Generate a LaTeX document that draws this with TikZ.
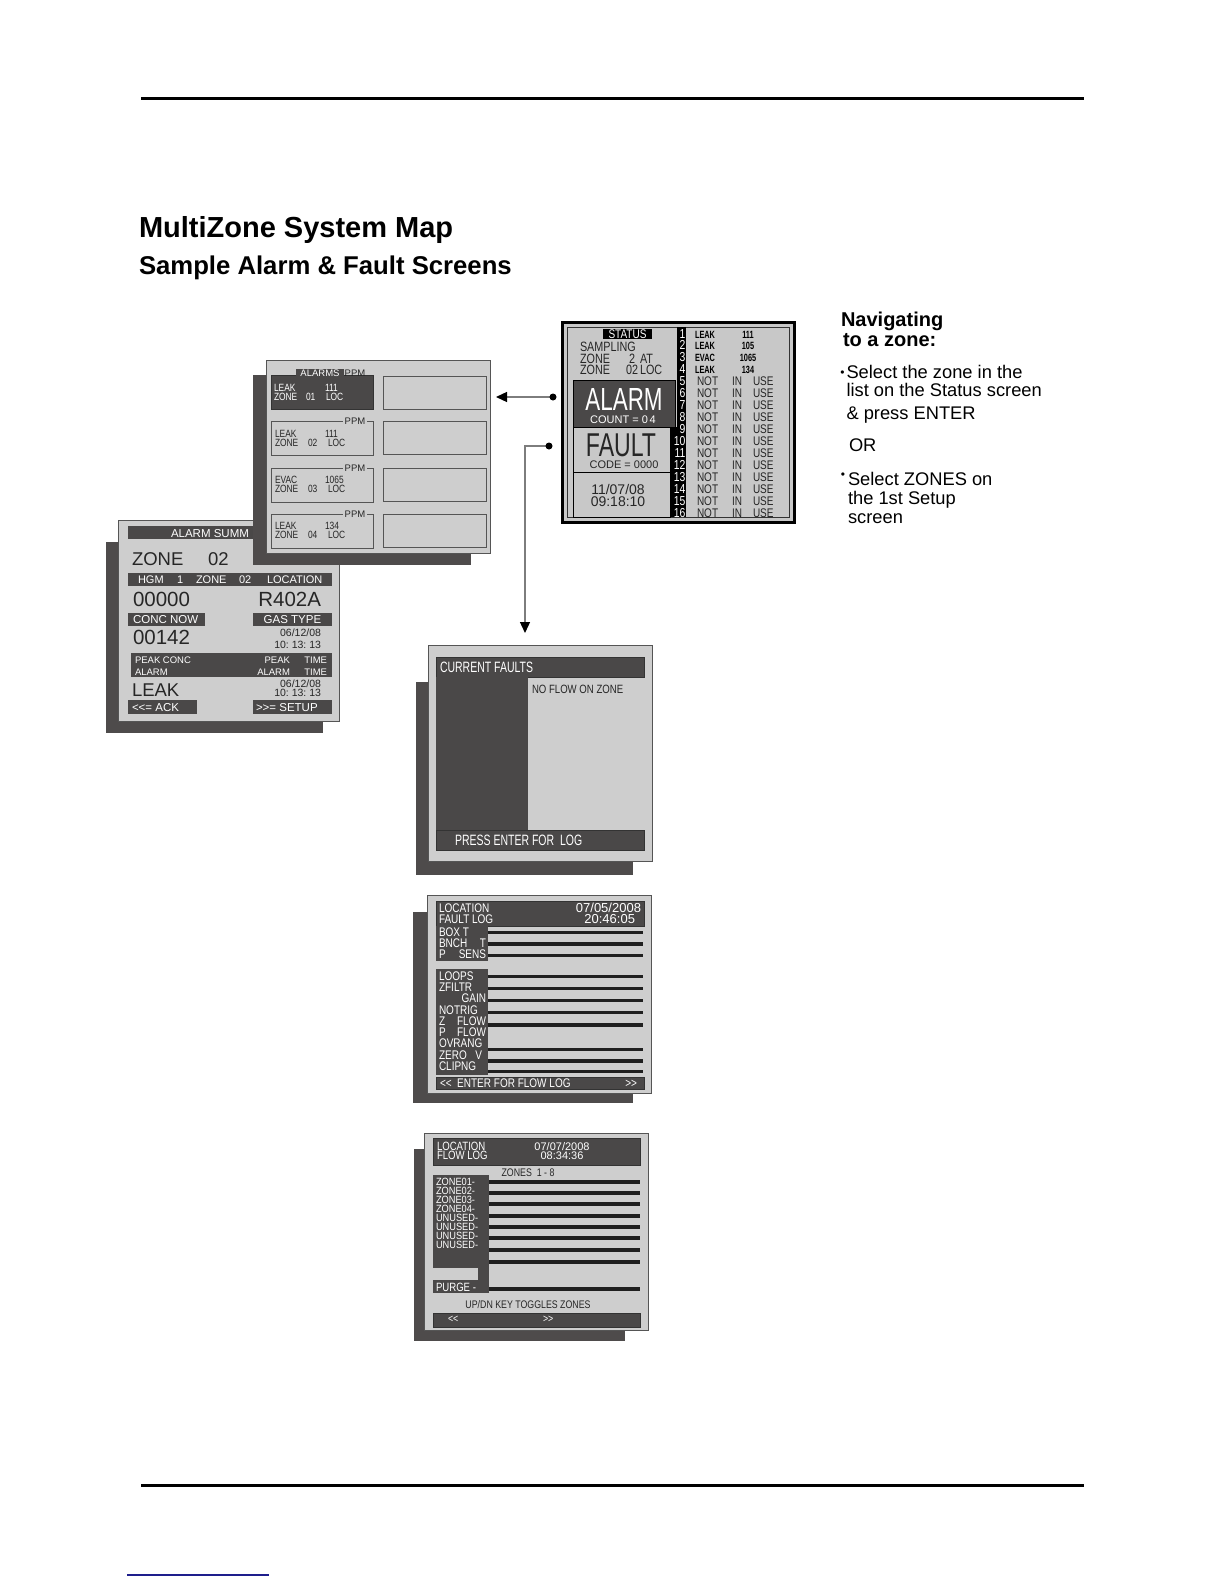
\documentclass[tikz,border=0pt]{standalone}
\usepackage{fontspec}
\setmainfont{Liberation Sans}
\newfontfamily\nrw[FakeStretch=0.8]{Liberation Sans}
\newfontfamily\nrwx[FakeStretch=0.7]{Liberation Sans}
\newfontfamily\nrwf[FakeStretch=0.88]{Liberation Sans}
\usetikzlibrary{arrows.meta}
\newcommand\myfs[1]{\fontsize{#1}{#1}\selectfont}
\definecolor{pbg}{RGB}{206,206,206}
\definecolor{sbg}{RGB}{200,200,200}
\definecolor{dk}{RGB}{74,72,72}
\definecolor{shd}{RGB}{78,75,75}
\definecolor{pln}{RGB}{85,85,85}
\definecolor{cn}{RGB}{125,125,125}
\definecolor{navyl}{RGB}{30,30,140}
\begin{document}
\begin{tikzpicture}[x=1pt,y=-1pt,
  t/.style={inner sep=0pt, outer sep=0pt},
  tl/.style={t, anchor=base west},
  tr/.style={t, anchor=base east},
  tc/.style={t, anchor=base},
  panel/.style={fill=pbg, draw=pln, line width=0.9pt},
  dbar/.style={fill=dk, draw=black!80, line width=0.5pt},
  wt/.style={text=white},
  dt/.style={text=black!85},
  logline/.style={line width=3.2pt, draw=black!88},
  conn/.style={draw=cn, line width=1.3pt, -{Triangle[length=11pt,width=10pt,color=black]}},
  ppm/.style={t, fill=pbg, inner xsep=1.5pt, text=black!85, font=\myfs{9.5}},
]
\fill[white] (0,0) rectangle (1224,1584);
\path[use as bounding box] (0,0) rectangle (1224,1584);

% page rules
\coordinate (r1a) at (141,99); \coordinate (r1b) at (1084,99);
\draw[line width=3pt] (r1a) -- (r1b);
\coordinate (r2a) at (141,1485); \coordinate (r2b) at (1084,1485);
\draw[line width=3pt] (r2a) -- (r2b);
\coordinate (r3a) at (127,1575); \coordinate (r3b) at (269,1575);
\draw[navyl, line width=1.4pt] (r3a) -- (r3b);

% titles
\node[tl, font=\bfseries\myfs{29}] (title) at (139,237) {MultiZone System Map};
\node[tl, font=\bfseries\myfs{25.7}] (subtitle) at (139,274) {Sample Alarm \& Fault Screens};

% navigating text
\node[tl, font=\bfseries\myfs{20}] (nav1) at (841,326) {Navigating};
\node[tl, font=\bfseries\myfs{20}] (nav2) at (843,346.5) {to a zone:};
\node[t, font=\myfs{12}] (bul1) at (842.5,374) {•};
\node[tl, font=\myfs{18.3}] (nav3) at (846.5,378.3) {Select the zone in the};
\node[tl, font=\myfs{18.3}] (nav4) at (846.5,396.7) {list on the Status screen};
\node[tl, font=\myfs{18.3}] (nav5) at (846.5,419) {\& press ENTER};
\node[tl, font=\myfs{18.3}] (nav6) at (849,451.7) {OR};
\node[t, font=\myfs{12}] (bul2) at (843,476) {•};
\node[tl, font=\myfs{18.3}] (nav7) at (848,485.7) {Select ZONES on};
\node[tl, font=\myfs{18.3}] (nav8) at (848,504) {the 1st Setup};
\node[tl, font=\myfs{18.3}] (nav9) at (848,523.3) {screen};

% ================= STATUS screen
\draw[line width=3pt, fill=sbg] (562,322) rectangle (794,522);
\draw[line width=0.7pt, draw=black!80] (567,327) rectangle (789,517);
\fill[black] (603,328.5) rectangle (652,339);
\node[tc, wt, font=\nrw\myfs{12.5}] (stS) at (627.5,338) {STATUS};
\node[tl, dt, font=\nrw\myfs{13.5}] (stA) at (580,351.5) {SAMPLING};
\node[tl, dt, font=\nrw\myfs{13.5}] (stB) at (580,363) {ZONE};
\node[tl, dt, font=\nrw\myfs{13.5}] (stB2) at (629,363) {2};
\node[tl, dt, font=\nrw\myfs{13.5}] (stB3) at (640,363) {AT};
\node[tl, dt, font=\nrw\myfs{13.5}] (stC) at (580,374) {ZONE};
\node[tl, dt, font=\nrw\myfs{13.5}] (stC2) at (626,374) {02};
\node[tl, dt, font=\nrw\myfs{13.5}] (stC3) at (640,374) {LOC};
\draw[fill=dk, draw=black, line width=0.7pt] (573,380) rectangle (675,427);
\node[tc, wt, font=\nrwx\myfs{32}] (stAl) at (624,410.5) {ALARM};
\node[tc, wt, font=\myfs{11}] (stCo) at (623,423) {COUNT = 0\,4};
\draw[fill=sbg, draw=black, line width=0.7pt] (573,427) rectangle (670,472);
\node[tc, dt, font=\nrwx\myfs{33}] (stFa) at (621,456) {FAULT};
\node[tc, dt, font=\myfs{11}] (stCd) at (624,468.5) {CODE = 0000};
\draw[draw=black, line width=0.7pt] (573,472) rectangle (670,517);
\node[tc, dt, font=\myfs{14}] (stD1) at (618,494.3) {11/07/08};
\node[tc, dt, font=\myfs{14}] (stD2) at (618,506) {09:18:10};
\fill[black] (677,327) rectangle (686,517);
\fill[black] (670,427) rectangle (686,517);
\foreach \i in {1,...,16}{
  \node[tr, wt, font=\nrw\myfs{13}] (stN\i) at (685.5,{338+(\i-1)*11.97}) {\i};
}
\foreach \i/\w/\n in {1/LEAK/111,2/LEAK/105,3/EVAC/1065,4/LEAK/134}{
  \node[tl, font=\nrwx\bfseries\myfs{10.5}] (stL\i) at (695,{338+(\i-1)*11.97}) {\w};
  \node[tc, font=\nrwx\bfseries\myfs{10.5}] (stV\i) at (748,{338+(\i-1)*11.97}) {\n};
}
\foreach \i in {5,...,16}{
  \node[tl, dt, font=\nrw\myfs{12.5}] (stNo\i) at (697,{338+(\i-1)*11.97}) {NOT};
  \node[tl, dt, font=\nrw\myfs{12.5}] (stIn\i) at (732,{338+(\i-1)*11.97}) {IN};
  \node[tl, dt, font=\nrw\myfs{12.5}] (stUs\i) at (753,{338+(\i-1)*11.97}) {USE};
}

% connectors
\coordinate (cd1) at (553,397); \coordinate (ca1) at (496,397);
\draw[conn] (cd1) -- (ca1);
\fill (cd1) circle (3.5pt);
\coordinate (cd2) at (549,446); \coordinate (ca2) at (525,633);
\draw[conn] (cd2) -| (ca2);
\fill (cd2) circle (3.5pt);

% ================= ALARM SUMMARY screen
\fill[shd] (106,542) rectangle (323,733);
\draw[panel] (118,520) rectangle (339,721);
\fill[dk] (128,526) rectangle (332,539);
\node[tl, wt, font=\myfs{11.5}] (suT) at (171,537) {ALARM SUMM};
\node[tl, dt, font=\myfs{18.5}] (suZ) at (132,565) {ZONE};
\node[tl, dt, font=\myfs{18.5}] (suZn) at (208,565) {02};
\fill[dk] (128,573) rectangle (332,586);
\node[tl, wt, font=\myfs{11}] (suH1) at (138,583.3) {HGM};
\node[tl, wt, font=\myfs{11}] (suH2) at (177,583.3) {1};
\node[tl, wt, font=\myfs{11}] (suH3) at (196,583.3) {ZONE};
\node[tl, wt, font=\myfs{11}] (suH4) at (239,583.3) {02};
\node[tl, wt, font=\myfs{11}] (suH5) at (267,583.3) {LOCATION};
\node[tl, dt, font=\myfs{20.5}] (su0) at (133,606.7) {00000};
\node[tr, dt, font=\myfs{20.5}] (suR) at (321,606.7) {R402A};
\fill[dk] (128,613) rectangle (205,626);
\node[tl, wt, font=\myfs{11.5}] (suCN) at (133,623.3) {CONC NOW};
\fill[dk] (253,613) rectangle (332,626);
\node[tc, wt, font=\myfs{11.5}] (suGT) at (292.5,623.3) {GAS TYPE};
\node[tl, dt, font=\myfs{20.5}] (su142) at (133,644) {00142};
\node[tr, dt, font=\myfs{10.5}] (suD1) at (321,636.7) {06/12/08};
\node[tr, dt, font=\myfs{10.5}] (suT1) at (321,648.3) {10:\ 13:\ 13};
\fill[dk] (131,653) rectangle (332,677);
\node[tl, wt, font=\myfs{9.5}] (suPC) at (135,663.3) {PEAK CONC};
\node[tl, wt, font=\myfs{9.5}] (suAl) at (135,675) {ALARM};
\node[tr, wt, font=\myfs{9.5}] (suPk) at (290,663.3) {PEAK};
\node[tr, wt, font=\myfs{9.5}] (suTi1) at (327,663.3) {TIME};
\node[tr, wt, font=\myfs{9.5}] (suAl2) at (290,675) {ALARM};
\node[tr, wt, font=\myfs{9.5}] (suTi2) at (327,675) {TIME};
\node[tl, dt, font=\myfs{18.5}] (suLk) at (132,696.7) {LEAK};
\node[tr, dt, font=\myfs{10.5}] (suD2) at (321,687) {06/12/08};
\node[tr, dt, font=\myfs{10.5}] (suT2) at (321,696.3) {10:\ 13:\ 13};
\fill[dk] (128,700) rectangle (197,714);
\node[tl, wt, font=\myfs{11.5}] (suAck) at (132,711) {<\kern0pt<\kern0pt= ACK};
\fill[dk] (253,700) rectangle (332,714);
\node[tl, wt, font=\myfs{11.5}] (suSet) at (256,711) {>\kern0pt>\kern0pt= SETUP};

% ================= ALARMS screen
\fill[shd] (253,375) rectangle (471,565);
\draw[panel] (266,360) rectangle (490,553);
\draw[draw=black!80, fill=dk, line width=0.7pt] (271,375) rectangle (373,409);
\fill[dk] (296,368.5) rectangle (344,376);
\node[tc, wt, font=\myfs{9.5}] (alT) at (320,376.5) {ALARMS};
\node[tc, dt, font=\myfs{9.5}] (alP1) at (355,376) {PPM};
\foreach \y in {421,468,514}{
  \draw[draw=pln, line width=0.8pt] (271,\y) rectangle (373,{\y+34});
}
\foreach \y in {376,421,468,514}{
  \draw[draw=pln, line width=0.8pt] (383,\y) rectangle (486,{\y+33.5});
}
\node[ppm] (alP2) at (355,421) {PPM};
\node[ppm] (alP3) at (355,468) {PPM};
\node[ppm] (alP4) at (355,514) {PPM};
\node[tl, wt, font=\nrw\myfs{10.5}] (al1a) at (274,391) {LEAK};
\node[tl, wt, font=\nrw\myfs{10.5}] (al1b) at (325,391) {111};
\node[tl, wt, font=\nrw\myfs{10.5}] (al1c) at (274,400) {ZONE};
\node[tl, wt, font=\nrw\myfs{10.5}] (al1d) at (306,400) {01};
\node[tl, wt, font=\nrw\myfs{10.5}] (al1e) at (326,400) {LOC};
\foreach \k/\w/\n/\z/\b in {2/LEAK/111/02/437, 3/EVAC/1065/03/483, 4/LEAK/134/04/529}{
  \node[tl, dt, font=\nrw\myfs{10.5}] (al\k a) at (275,\b) {\w};
  \node[tl, dt, font=\nrw\myfs{10.5}] (al\k b) at (325,\b) {\n};
  \node[tl, dt, font=\nrw\myfs{10.5}] (al\k c) at (275,{\b+9}) {ZONE};
  \node[tl, dt, font=\nrw\myfs{10.5}] (al\k d) at (308,{\b+9}) {\z};
  \node[tl, dt, font=\nrw\myfs{10.5}] (al\k e) at (328,{\b+9}) {LOC};
}

% ================= CURRENT FAULTS screen
\fill[shd] (416,682) rectangle (633,875);
\draw[panel] (428,645) rectangle (652,861);
\draw[dbar] (436,657) rectangle (644,677);
\fill[dk] (436,677) rectangle (528,830);
\draw[dbar] (436,830) rectangle (644,850);
\node[tl, wt, font=\nrwx\myfs{15}] (cfT) at (440,672.5) {CURRENT FAULTS};
\node[tl, dt, font=\nrw\myfs{12}] (cfN) at (532,693.3) {NO FLOW ON ZONE};
\node[tl, wt, font=\nrwx\myfs{15}] (cfP) at (455,845.7) {PRESS ENTER FOR\ \ LOG};

% ================= FAULT LOG screen
\fill[shd] (413,912) rectangle (633,1103);
\draw[panel] (427,895) rectangle (651,1093);
\draw[dbar] (436,901) rectangle (644,926);
\node[tl, wt, font=\nrw\myfs{12.5}] (flA) at (439,912) {LOCATION};
\node[tl, wt, font=\nrw\myfs{12.5}] (flB) at (439,923) {FAULT LOG};
\node[tr, wt, font=\myfs{13}] (flC) at (641,912) {07/05/2008};
\node[tr, wt, font=\myfs{13}] (flD) at (635,923) {20:46:05};
\fill[dk] (436,926) rectangle (488,961);
\fill[dk] (436,969) rectangle (488,1075);
\node[tl, wt, font=\nrw\myfs{12.5}] (fl1) at (439,936.3) {BOX T};
\node[tl, wt, font=\nrw\myfs{12.5}] (fl2) at (439,947.7) {BNCH};
\node[tr, wt, font=\nrw\myfs{12.5}] (fl2b) at (486,947.7) {T};
\node[tl, wt, font=\nrw\myfs{12.5}] (fl3) at (439,958.7) {P};
\node[tr, wt, font=\nrw\myfs{12.5}] (fl3b) at (486,958.7) {SENS};
\node[tl, wt, font=\nrw\myfs{12.5}] (fl4) at (439,980) {LOOPS};
\node[tl, wt, font=\nrw\myfs{12.5}] (fl5) at (439,991.7) {ZFILTR};
\node[tr, wt, font=\nrw\myfs{12.5}] (fl6) at (486,1002.3) {GAIN};
\node[tl, wt, font=\nrw\myfs{12.5}] (fl7) at (439,1014.3) {NOTRIG};
\node[tl, wt, font=\nrw\myfs{12.5}] (fl8) at (439,1025.7) {Z};
\node[tr, wt, font=\nrw\myfs{12.5}] (fl8b) at (486,1025.7) {FLOW};
\node[tl, wt, font=\nrw\myfs{12.5}] (fl9) at (439,1036.7) {P};
\node[tr, wt, font=\nrw\myfs{12.5}] (fl9b) at (486,1036.7) {FLOW};
\node[tl, wt, font=\nrw\myfs{12.5}] (fl10) at (439,1047.7) {OVRANG};
\node[tl, wt, font=\nrw\myfs{12.5}] (fl11) at (439,1059) {ZERO};
\node[tr, wt, font=\nrw\myfs{12.5}] (fl11b) at (482,1059) {V};
\node[tl, wt, font=\nrw\myfs{12.5}] (fl12) at (439,1070) {CLIPNG};
\foreach \y in {932.3,944,955.3,976.7,988.7,1000.7,1012.7,1025,1049.3,1061,1071.7}{
  \draw[logline] (488,\y) -- (643,\y);
}
\draw[dbar] (436,1077) rectangle (644,1089);
\node[tl, wt, font=\nrw\myfs{12.5}] (flE) at (440,1087) {<\kern0pt<\ \ ENTER FOR FLOW LOG};
\node[tr, wt, font=\nrw\myfs{12.5}] (flF) at (637,1087) {>\kern0pt>};

% ================= FLOW LOG screen
\fill[shd] (414,1149) rectangle (625,1341);
\draw[panel] (424,1133) rectangle (648,1330);
\draw[dbar] (433,1138) rectangle (640,1165);
\node[tl, wt, font=\nrw\myfs{12}] (fwA) at (437,1150) {LOCATION};
\node[tl, wt, font=\nrw\myfs{12}] (fwB) at (437,1159) {FLOW LOG};
\node[tc, wt, font=\myfs{11}] (fwC) at (562,1150) {07/07/2008};
\node[tc, wt, font=\myfs{11}] (fwD) at (562,1159) {08:34:36};
\node[tc, dt, font=\nrw\myfs{11}] (fwE) at (528,1176) {ZONES\ \ 1 - 8};
\fill[dk] (433,1175) rectangle (489,1268);
\fill[dk] (478,1268) rectangle (489,1293);
\fill[dk] (433,1280) rectangle (489,1293);
\foreach \i/\s in {0/ZONE01-,1/ZONE02-,2/ZONE03-,3/ZONE04-,4/UNUSED-,5/UNUSED-,6/UNUSED-,7/UNUSED-}{
  \node[tl, wt, font=\nrwf\myfs{10.5}] (fwZ\i) at (436,{1185+\i*9}) {\s};
}
\node[tl, wt, font=\nrw\myfs{12}] (fwP) at (436,1291) {PURGE -};
\foreach \y in {1182,1193,1204,1216,1227,1238,1250,1262,1289}{
  \draw[logline] (489,\y) -- (640,\y);
}
\node[tc, dt, font=\nrw\myfs{11}] (fwU) at (528,1308) {UP/DN KEY TOGGLES ZONES};
\draw[dbar] (433,1313) rectangle (640,1327);
\node[tl, wt, font=\nrw\myfs{11}] (fwL) at (448,1322) {<\kern0pt<};
\node[tl, wt, font=\nrw\myfs{11}] (fwR) at (543,1322) {>\kern0pt>};
\end{tikzpicture}
\end{document}
